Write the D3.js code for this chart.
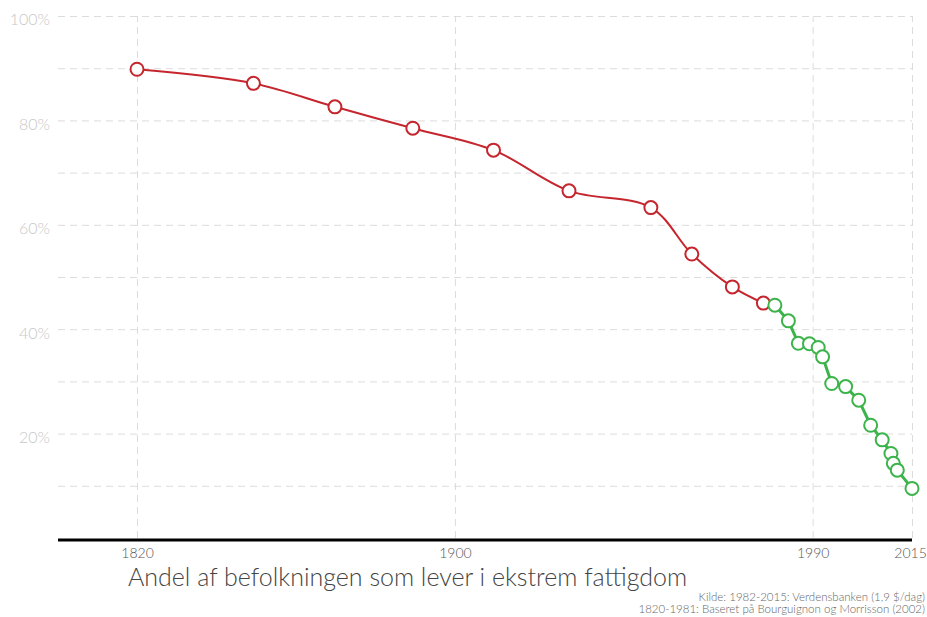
<!DOCTYPE html>
<html>
<head>
<meta charset="utf-8">
<script src="https://cdn.jsdelivr.net/npm/d3@7"></script>
<style>
  body { margin: 0; background: #fff; }
  svg text { font-family: Lato, "Open Sans", sans-serif; font-weight: 300; }
  .grid line { stroke: #dcdcdc; stroke-dasharray: 7,5; }
  .grid .domain { display: none; }
</style>
</head>
<body>
<div id="chart"></div>
<script>
// data
const histYears = [1820, 1849.3, 1869.8, 1889.4, 1909.7, 1928.7, 1949.3, 1959.6, 1969.8, 1977.6];
const histShare = [89.8, 87.1, 82.6, 78.5, 74.3, 66.5, 63.3, 54.4, 48.1, 45.0];

const wbYears = [1980.5, 1983.9, 1986.4, 1989.2, 1991.4, 1992.5, 1994.8, 1998.3, 2001.6, 2004.6, 2007.5, 2009.7, 2010.3, 2011.3, 2015];
const wbShare = [44.6, 41.6, 37.3, 37.2, 36.5, 34.7, 29.6, 29.0, 26.4, 21.6, 18.8, 16.2, 14.3, 13.0, 9.5];

const xTicks = [1820, 1900, 1990, 2015];
const yLabelTicks = [20, 40, 60, 80, 100];
const yGridTicks = [10, 20, 30, 40, 50, 60, 70, 80, 90, 100];

const title = 'Andel af befolkningen som lever i ekstrem fattigdom';
const source = ['Kilde: 1982-2015: Verdensbanken (1,9 $/dag)',
                '1820-1981: Baseret på Bourguignon og Morrisson (2002)'];

const width = 927, height = 617;
const plotLeft = 58, plotRight = 912, plotTop = 16, plotBottom = 538;

const svg = d3.select('#chart')
  .append('svg')
    .attr('width', width)
    .attr('height', height);

const x = d3.scaleLinear().domain([1820, 2015]).range([137, 912]);
const y = d3.scaleLinear().domain([0, 100]).range([plotBottom, plotTop]);

// horizontal grid
svg.append('g')
    .attr('class', 'grid')
    .attr('transform', `translate(${plotLeft},0)`)
    .call(d3.axisLeft(y).tickValues(yGridTicks).tickSize(-(plotRight - plotLeft)).tickFormat(''));

// vertical grid
svg.append('g')
    .attr('class', 'grid')
    .attr('transform', `translate(0,${plotBottom})`)
    .call(d3.axisBottom(x).tickValues(xTicks).tickSize(-(plotBottom - plotTop)).tickFormat(''));

// y labels
const yAxis = svg.append('g')
    .attr('transform', `translate(${plotLeft},0)`)
    .call(d3.axisLeft(y).tickValues(yLabelTicks).tickSize(0).tickPadding(8).tickFormat(d => d + '%'));
yAxis.select('.domain').remove();
yAxis.selectAll('text')
    .attr('fill', '#c8c8c8')
    .attr('font-size', 16)
    .attr('dy', '0.55em');

// x labels
const xAxis = svg.append('g')
    .attr('transform', `translate(0,${plotBottom + 2})`)
    .call(d3.axisBottom(x).tickValues(xTicks).tickSize(0).tickPadding(8).tickFormat(d3.format('d')));
xAxis.select('.domain').remove();
xAxis.selectAll('text')
    .attr('fill', '#555')
    .attr('font-size', 14)
    .attr('dx', (d, i) => i === xTicks.length - 1 ? -2 : 0);

// baseline
svg.append('line')
    .attr('x1', plotLeft)
    .attr('x2', plotRight)
    .attr('y1', plotBottom + 2)
    .attr('y2', plotBottom + 2)
    .attr('stroke', '#000')
    .attr('stroke-width', 3);

// historic series, smooth red line
const red = '#c5262e';
const green = '#3cb44b';

const histPts = histYears.map((d, i) => [d, histShare[i]]);
const wbPts = wbYears.map((d, i) => [d, wbShare[i]]);

svg.append('path')
    .datum(histPts)
    .attr('fill', 'none')
    .attr('stroke', red)
    .attr('stroke-width', 2)
    .attr('d', d3.line().x(d => x(d[0])).y(d => y(d[1])).curve(d3.curveCatmullRom));

svg.selectAll('.hist-dot')
    .data(histPts)
    .join('circle')
      .attr('class', 'hist-dot')
      .attr('cx', d => x(d[0]))
      .attr('cy', d => y(d[1]))
      .attr('r', 6.5)
      .attr('fill', '#fff')
      .attr('stroke', red)
      .attr('stroke-width', 2);

// world bank series, straight green line
svg.append('path')
    .datum(wbPts)
    .attr('fill', 'none')
    .attr('stroke', green)
    .attr('stroke-width', 3)
    .attr('d', d3.line().x(d => x(d[0])).y(d => y(d[1])));

svg.selectAll('.wb-dot')
    .data(wbPts)
    .join('circle')
      .attr('class', 'wb-dot')
      .attr('cx', d => x(d[0]))
      .attr('cy', d => y(d[1]))
      .attr('r', 6.5)
      .attr('fill', '#fff')
      .attr('stroke', green)
      .attr('stroke-width', 2);

// title
svg.append('text')
    .attr('x', 128)
    .attr('y', 586)
    .attr('fill', '#444')
    .attr('font-size', 25)
    .text(title);

// source lines
svg.selectAll('.source')
    .data(source)
    .join('text')
      .attr('class', 'source')
      .attr('x', 925)
      .attr('y', (d, i) => 601 + i * 12)
      .attr('text-anchor', 'end')
      .attr('fill', '#666')
      .attr('font-size', 11.5)
      .text(d => d);
</script>
</body>
</html>
